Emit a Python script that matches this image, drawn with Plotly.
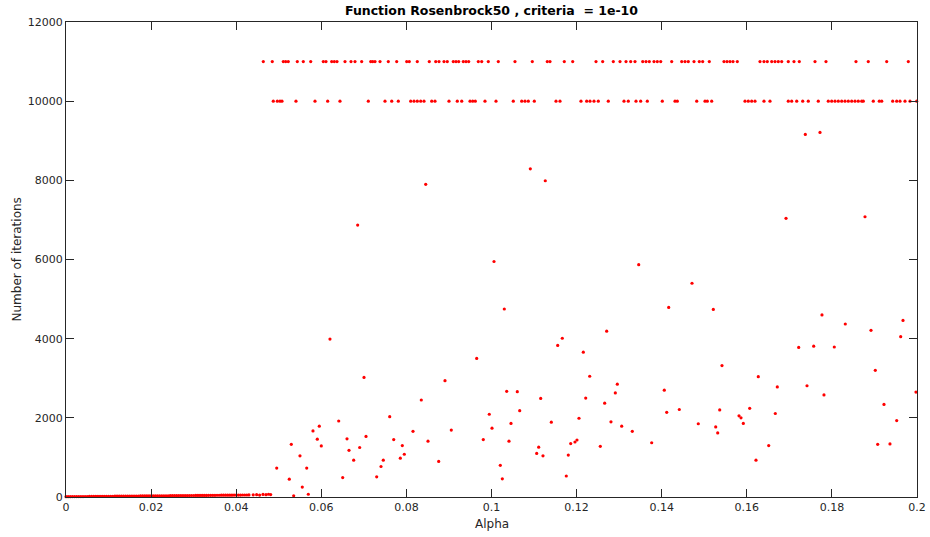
import plotly.graph_objects as go

# ---------------- data ----------------
# Near-zero region (small iteration counts for small alpha)
low_alpha = [0.0000, 0.0005, 0.0010, 0.0015, 0.0020, 0.0025, 0.0030, 0.0035, 0.0040, 0.0045,
             0.0050, 0.0055, 0.0060, 0.0065, 0.0070, 0.0075, 0.0080, 0.0085, 0.0090, 0.0095,
             0.0100, 0.0105, 0.0110, 0.0115, 0.0120, 0.0125, 0.0130, 0.0135, 0.0140, 0.0145,
             0.0150, 0.0155, 0.0160, 0.0165, 0.0170, 0.0175, 0.0180, 0.0185, 0.0190, 0.0195,
             0.0200, 0.0205, 0.0210, 0.0215, 0.0220, 0.0225, 0.0230, 0.0235, 0.0240, 0.0245,
             0.0250, 0.0255, 0.0260, 0.0265, 0.0270, 0.0275, 0.0280, 0.0285, 0.0290, 0.0295,
             0.0300, 0.0305, 0.0310, 0.0315, 0.0320, 0.0325, 0.0330, 0.0335, 0.0340, 0.0345,
             0.0350, 0.0355, 0.0360, 0.0365, 0.0370, 0.0375, 0.0380, 0.0385, 0.0390, 0.0395,
             0.0400, 0.0405, 0.0410, 0.0415, 0.0420, 0.0425, 0.0430,
             0.0440, 0.0448, 0.0455, 0.0463, 0.0470, 0.0476, 0.0481]
low_iters = [8, 9, 9, 10, 10, 11, 11, 12, 12, 13,
             13, 14, 14, 15, 15, 16, 16, 17, 17, 18,
             18, 19, 19, 20, 20, 21, 21, 22, 22, 23,
             23, 24, 24, 25, 25, 26, 26, 27, 27, 28,
             28, 29, 29, 30, 30, 31, 31, 32, 32, 33,
             33, 34, 34, 35, 35, 36, 36, 37, 37, 38,
             38, 39, 39, 40, 40, 41, 41, 42, 42, 43,
             43, 44, 44, 45, 45, 46, 46, 47, 47, 48,
             48, 49, 49, 50, 50, 51, 52,
             55, 60, 48, 65, 58, 70, 62]

# Runs that hit the 11000 cap
cap11_alpha = [0.04637, 0.04848, 0.05107, 0.05163, 0.05224, 0.05436, 0.05577, 0.05751, 0.06047, 0.06110,
               0.06244, 0.06306, 0.06369, 0.06557, 0.06698, 0.06792, 0.06949, 0.07161, 0.07208, 0.07262,
               0.07380, 0.07575, 0.07772, 0.08007, 0.08068, 0.08256, 0.08538, 0.08689, 0.08766, 0.08884,
               0.08961, 0.09102, 0.09166, 0.09229, 0.09337, 0.09401, 0.09464, 0.09690, 0.09770, 0.09925,
               0.10160, 0.10552, 0.10959, 0.11311, 0.11375, 0.11711, 0.11908, 0.12456, 0.12613, 0.12863,
               0.13020, 0.13161, 0.13271, 0.13373, 0.13554, 0.13631, 0.13709, 0.13819, 0.13897, 0.13977,
               0.14235, 0.14470, 0.14548, 0.14625, 0.14759, 0.14884, 0.14963, 0.15119, 0.15464, 0.15535,
               0.15605, 0.15676, 0.15777, 0.16310, 0.16404, 0.16482, 0.16585, 0.16663, 0.16740, 0.16820,
               0.16975, 0.17109, 0.17234, 0.17603, 0.17861, 0.18566, 0.18855, 0.19288, 0.19796]
cap11_iters = [11000] * len(cap11_alpha)

# Runs that hit the 10000 cap
cap10_alpha = [0.04872, 0.04966, 0.05029, 0.05076, 0.05405, 0.05852, 0.06150, 0.06439, 0.07105, 0.07497,
               0.07655, 0.07810, 0.08101, 0.08179, 0.08256, 0.08336, 0.08414, 0.08595, 0.08672, 0.09001,
               0.09196, 0.09300, 0.09495, 0.09558, 0.09620, 0.09847, 0.10106, 0.10512, 0.10710, 0.10787,
               0.10865, 0.11006, 0.11516, 0.11610, 0.12103, 0.12237, 0.12315, 0.12409, 0.12510, 0.12745,
               0.13114, 0.13215, 0.13396, 0.13506, 0.13662, 0.14014, 0.14313, 0.14367, 0.14823, 0.15018,
               0.15072, 0.15175, 0.15958, 0.16035, 0.16115, 0.16193, 0.16404, 0.16545, 0.16975, 0.17055,
               0.17173, 0.17314, 0.17445, 0.17680, 0.17915, 0.17995, 0.18073, 0.18151, 0.18230, 0.18308,
               0.18386, 0.18465, 0.18543, 0.18620, 0.18701, 0.18738, 0.18973, 0.19114, 0.19171, 0.19429,
               0.19523, 0.19601, 0.19718, 0.19836, 0.19993]
cap10_iters = [10000] * len(cap10_alpha)

# Converged runs (scattered)
conv_alpha = [0.06204, 0.07004, 0.09652, 0.06409, 0.07608, 0.08350, 0.08907, 0.09948, 0.05953, 0.05805,
              0.05295, 0.05906, 0.06000, 0.06604, 0.07051, 0.06651, 0.06902, 0.07702, 0.07904, 0.08155,
              0.08508, 0.09055, 0.09807, 0.05499, 0.04952, 0.05657, 0.06761, 0.07457, 0.07403, 0.07857,
              0.07951, 0.08759, 0.05248, 0.06503, 0.07302, 0.05553, 0.05351, 0.05695,
              0.10301, 0.14165, 0.12707, 0.11664, 0.11556, 0.12158, 0.12308, 0.12957, 0.12910, 0.14061,
              0.10357, 0.10606, 0.11156, 0.12214, 0.12660, 0.14414, 0.14118, 0.10663, 0.10458, 0.10012,
              0.11406, 0.12056, 0.12808, 0.13060, 0.13309, 0.14860, 0.10411, 0.11109, 0.11062, 0.11210,
              0.11861, 0.11962, 0.12009, 0.11805, 0.12557, 0.13765, 0.10207, 0.10254, 0.11758,
              0.15213, 0.17767, 0.18315, 0.19671, 0.18919, 0.19617, 0.17220, 0.17572, 0.18056, 0.15417,
              0.19020, 0.16270, 0.16717, 0.17415, 0.17814, 0.19976, 0.15363, 0.16068, 0.16670, 0.19224,
              0.15817, 0.15864, 0.15918, 0.15269, 0.15316, 0.19523, 0.16515, 0.19076, 0.19365, 0.16216,
              0.08454, 0.06855, 0.10912, 0.11264, 0.10059, 0.17375, 0.17720, 0.16922, 0.18778, 0.13460,
              0.14712]
conv_iters = [3990, 3020, 3500, 1920, 2030, 2450, 2940, 2090, 1790, 1670,
              1330, 1460, 1290, 1470, 1530, 1180, 1250, 1450, 1300, 1660,
              1410, 1690, 1450, 1040, 730, 730, 930, 930, 770, 980,
              1080, 900, 450, 490, 510, 250, 30, 70,
              4750, 4790, 4190, 4010, 3830, 3660, 3050, 2850, 2630, 2700,
              2670, 2660, 2490, 2500, 2370, 2210, 2140, 2180, 1860, 1740,
              1890, 1990, 1900, 1790, 1660, 1850, 1410, 1260, 1100, 1040,
              1350, 1390, 1440, 1060, 1280, 1370, 800, 460, 530,
              4740, 4600, 4370, 4460, 4210, 4050, 3780, 3810, 3790, 3320,
              3200, 3040, 2780, 2810, 2580, 2650, 2200, 2240, 2110, 2340,
              2050, 2000, 1860, 1770, 1620, 1930, 1300, 1330, 1340, 930,
              7900, 6870, 8290, 7990, 5950, 9160, 9210, 7040, 7080, 5870,
              5400]

x_ticks = [0, 0.02, 0.04, 0.06, 0.08, 0.1, 0.12, 0.14, 0.16, 0.18, 0.2]
x_ticktext = ["0", "0.02", "0.04", "0.06", "0.08", "0.1", "0.12", "0.14", "0.16", "0.18", "0.2"]
y_ticks = [0, 2000, 4000, 6000, 8000, 10000, 12000]
y_ticktext = ["0", "2000", "4000", "6000", "8000", "10000", "12000"]

# ---------------- figure ----------------
all_alpha = low_alpha + cap11_alpha + cap10_alpha + conv_alpha
all_iters = low_iters + cap11_iters + cap10_iters + conv_iters

axis_color = "#262626"
font_family = "DejaVu Sans"
W, H = 930, 537
ML, MR, MT, MB = 66, 13, 22, 40
PW, PH = W - ML - MR, H - MT - MB

fig = go.Figure()
fig.add_trace(go.Scatter(
    x=all_alpha, y=all_iters, mode="markers",
    marker=dict(color="#ff0000", size=3.2, line=dict(width=0)),
    showlegend=False, cliponaxis=False,
))

common_axis = dict(
    showline=True, linecolor=axis_color, linewidth=1,
    mirror="ticks", ticks="inside", ticklen=8, tickwidth=1, tickcolor=axis_color,
    showgrid=False, zeroline=False, automargin=False,
    tickfont=dict(family=font_family, size=11, color=axis_color),
)

fig.update_layout(
    width=W, height=H,
    margin=dict(l=ML, r=MR, t=MT, b=MB, autoexpand=False),
    paper_bgcolor="white", plot_bgcolor="white",
    title=dict(
        text="<b>Function Rosenbrock50 , criteria&nbsp; = 1e-10</b>",
        x=0.5, xref="paper", xanchor="center",
        y=1 - 11 / H, yref="container", yanchor="middle",
        font=dict(family=font_family, size=12.5, color="#000000"),
    ),
    xaxis=dict(range=[0, 0.2], tickvals=x_ticks, ticktext=x_ticktext, **common_axis),
    yaxis=dict(range=[0, 12000], tickvals=y_ticks, ticktext=y_ticktext, **common_axis),
    annotations=[
        dict(text="Alpha", xref="paper", yref="paper", x=0.5, y=-(524 - (H - MB)) / PH,
             xanchor="center", yanchor="middle", showarrow=False,
             font=dict(family=font_family, size=12, color=axis_color)),
        dict(text="Number of iterations", xref="paper", yref="paper", x=(16 - ML) / PW, y=0.5,
             xanchor="center", yanchor="middle", textangle=-90, showarrow=False,
             font=dict(family=font_family, size=12, color=axis_color)),
    ],
)

fig.write_html("out.html")
